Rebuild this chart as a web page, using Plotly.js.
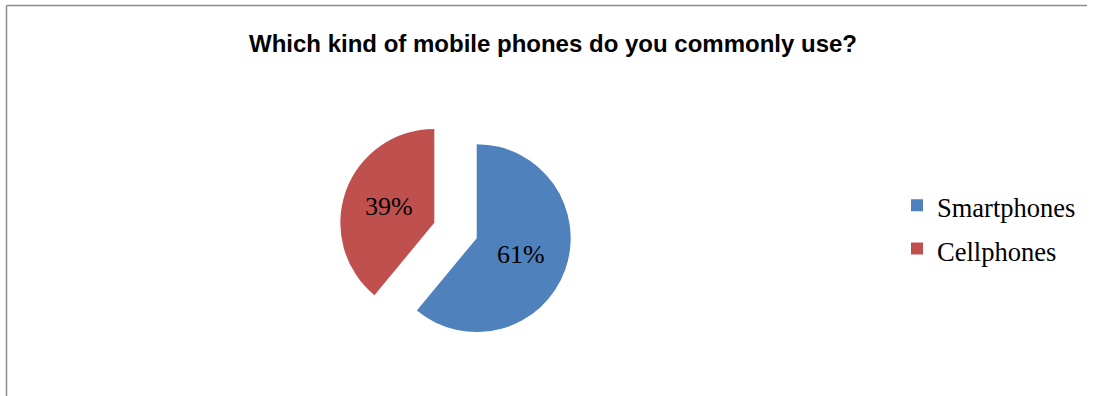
<!DOCTYPE html>
<html>
<head>
<meta charset="utf-8">
<script src="https://cdn.plot.ly/plotly-3.0.1.min.js"></script>
<style>html,body{margin:0;padding:0;background:#fff;}#chart{width:1096px;height:396px;}</style>
</head>
<body>
<div id="chart"></div>
<script>
const categories = ["Smartphones", "Cellphones"];
const values = [61, 39];
const colors = ["#4F81BD", "#C0504D"];
const chartTitle = "Which kind of mobile phones do you commonly use?";

const W = 1096, H = 396;
const legendLabels = categories.map(c => '<span style="font-size:26.5px">' + c + '</span>');

const trace = {
  type: "pie",
  labels: legendLabels,
  values: values,
  marker: {colors: colors, line: {width: 0}},
  sort: false,
  direction: "clockwise",
  rotation: 0,
  pull: [0.24, 0.24],
  textinfo: "percent",
  textposition: "inside",
  insidetextorientation: "horizontal",
  textfont: {family: "Liberation Serif, Times New Roman, serif", size: 26, color: "#000"},
  hoverinfo: "none",
  domain: {x: [339 / W, 572 / W], y: [1 - 347 / H, 1 - 114 / H]}
};

const layout = {
  width: W, height: H,
  margin: {l: 0, r: 0, t: 0, b: 0},
  paper_bgcolor: "#fff",
  title: {
    text: "<b>" + chartTitle + "</b>",
    x: 553 / W, xanchor: "center", xref: "paper",
    y: 1 - 44 / H, yanchor: "middle", yref: "paper",
    font: {family: "Liberation Sans, Arial, sans-serif", size: 24, color: "#000"}
  },
  showlegend: true,
  legend: {
    x: 897 / W, xanchor: "left",
    y: 1 - 227 / H, yanchor: "middle",
    font: {family: "Liberation Serif, Times New Roman, serif", size: 31, color: "#000"},
    bgcolor: "rgba(0,0,0,0)"
  },
  shapes: [
    {type: "line", xref: "paper", yref: "paper", x0: 6.5 / W, x1: 6.5 / W, y0: 0, y1: 1 - 5.5 / H, line: {color: "#8c8c8c", width: 1.5}},
    {type: "line", xref: "paper", yref: "paper", x0: 6.5 / W, x1: 1087 / W, y0: 1 - 5.5 / H, y1: 1 - 5.5 / H, line: {color: "#8c8c8c", width: 1.5}}
  ]
};

Plotly.newPlot("chart", [trace], layout, {displayModeBar: false, staticPlot: true});
</script>
</body>
</html>
